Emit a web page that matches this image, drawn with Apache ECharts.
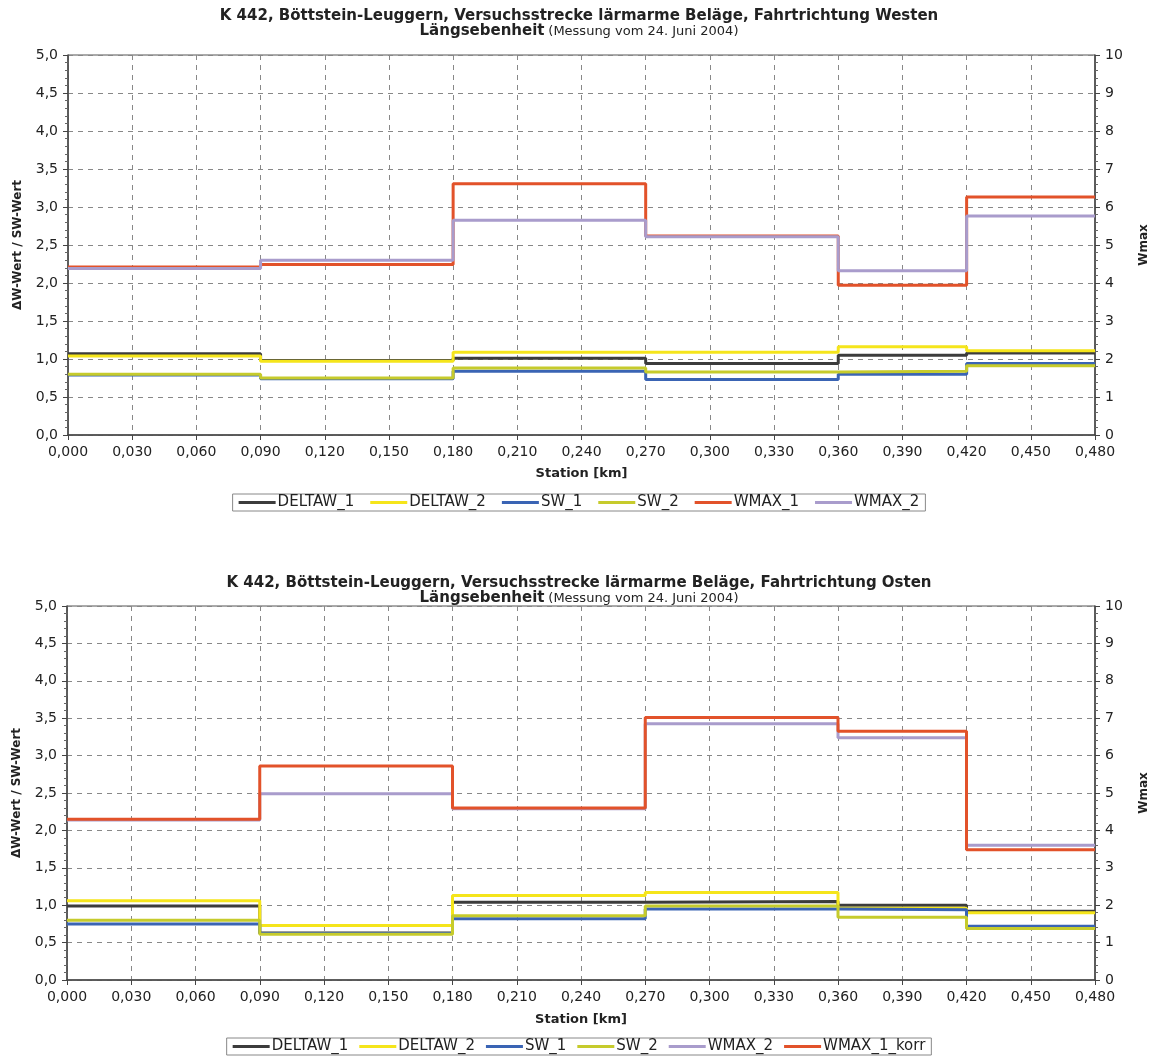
<!DOCTYPE html>
<html><head><meta charset="utf-8">
<script src="https://cdn.jsdelivr.net/npm/echarts@6/dist/echarts.min.js"></script>
<style>html,body{margin:0;padding:0;background:#fff}#c1{width:1158px;height:545px}#c2{width:1158px;height:512px}</style>
</head><body><div id="c1"></div><div id="c2"></div>
<script>
const stations = [0, 0.09, 0.18, 0.27, 0.36, 0.42, 0.48];

// Chart 1: Fahrtrichtung Westen
const w_DELTAW_1 = [1.07, 0.98, 1.01, 0.94, 1.05, 1.08];
const w_DELTAW_2 = [1.04, 0.97, 1.09, 1.09, 1.16, 1.11];
const w_SW_1     = [0.79, 0.74, 0.84, 0.73, 0.80, 0.94];
const w_SW_2     = [0.80, 0.75, 0.88, 0.83, 0.84, 0.91];
const w_WMAX_1   = [4.42, 4.49, 6.61, 5.24, 3.94, 6.26];
const w_WMAX_2   = [4.38, 4.60, 5.65, 5.22, 4.32, 5.76];

// Chart 2: Fahrtrichtung Osten
const o_DELTAW_1 = [0.99, 0.63, 1.04, 1.05, 1.00, 0.92];
const o_DELTAW_2 = [1.06, 0.73, 1.13, 1.17, 0.96, 0.90];
const o_SW_1     = [0.75, 0.62, 0.82, 0.95, 0.94, 0.72];
const o_SW_2     = [0.80, 0.61, 0.86, 0.99, 0.84, 0.69];
const o_WMAX_2   = [4.28, 4.98, 4.58, 6.85, 6.48, 3.60];
const o_WMAX_1_korr = [4.30, 5.72, 4.60, 7.02, 6.65, 3.48];

const COLORS = {
  DELTAW_1: '#3c3c3c', DELTAW_2: '#f5e51b', SW_1: '#3a64b4', SW_2: '#c6cb2c',
  WMAX_1: '#e2522a', WMAX_2: '#a99ccc', WMAX_1_korr: '#e2522a'
};
const FONT = '"DejaVu Sans", Verdana, sans-serif';

function stepData(vals){
  const d = vals.map((v,i)=>[stations[i], v]);
  d.push([stations[stations.length-1], vals[vals.length-1]]);
  return d;
}
function mkSeries(name, vals, yIdx){
  return {name, type:'line', step:'end', yAxisIndex:yIdx, data:stepData(vals), symbol:'none',
    lineStyle:{width:3, color:COLORS[name]}, itemStyle:{color:COLORS[name]}, animation:false};
}
function makeOption(dir, titleTop, gridTop, gridH, gridLeft, gridRight, legendTop, legendGap, nameGapX, seriesList){
  const names = seriesList.map(s=>s.name);
  return {
    animation:false,
    textStyle:{fontFamily:FONT},
    title:{
      left:'center', top:titleTop,
      text:'K 442, Böttstein-Leuggern, Versuchsstrecke lärmarme Beläge, Fahrtrichtung '+dir,
      textStyle:{fontFamily:FONT, fontSize:15, fontWeight:'bold', color:'#222'},
      subtext:'{b|Längsebenheit} {n|(Messung vom 24. Juni 2004)}',
      itemGap:0,
      subtextStyle:{rich:{b:{fontFamily:FONT, fontSize:15, fontWeight:'bold', color:'#222'},
                          n:{fontFamily:FONT, fontSize:13, color:'#222'}}}
    },
    grid:{left:gridLeft, right:gridRight, top:gridTop, height:gridH, show:true, borderColor:'#555', borderWidth:1},
    legend:{
      top:legendTop, left:'center', data:names, icon:'rect', itemWidth:37, itemHeight:3, itemGap:legendGap,
      borderColor:'#888', borderWidth:1, padding:[1,6], selectedMode:false,
      textStyle:{fontFamily:FONT, fontSize:15, color:'#222', padding:[0,0,0,-3]}
    },
    xAxis:{
      type:'value', min:0, max:0.48, interval:0.03,
      name:'Station [km]', nameLocation:'middle', nameGap:nameGapX,
      nameTextStyle:{fontFamily:FONT, fontSize:13, fontWeight:'bold', color:'#222'},
      axisLine:{onZero:false, lineStyle:{color:'#444', width:1.5}},
      axisTick:{show:true, length:5, lineStyle:{color:'#444'}},
      axisLabel:{fontFamily:FONT, fontSize:14, color:'#222', margin:10, formatter:v=>v.toFixed(3).replace('.',',')},
      splitLine:{show:true, lineStyle:{color:'#888', type:[5,5], width:1}}
    },
    yAxis:[{
      type:'value', min:0, max:5, interval:0.5, position:'left',
      name:'ΔW-Wert / SW-Wert', nameLocation:'middle', nameGap:44, nameRotate:90,
      nameTextStyle:{fontFamily:FONT, fontSize:12, fontWeight:'bold', color:'#222'},
      axisLine:{show:true, lineStyle:{color:'#444', width:1.5}},
      axisTick:{show:true, length:5, lineStyle:{color:'#444'}},
      minorTick:{show:true, splitNumber:5, length:3, lineStyle:{color:'#666'}},
      axisLabel:{fontFamily:FONT, fontSize:14, color:'#222', margin:10, formatter:v=>v.toFixed(1).replace('.',',')},
      splitLine:{show:true, lineStyle:{color:'#888', type:[5,5], width:1}}
    },{
      type:'value', min:0, max:10, interval:1, position:'right',
      name:'Wmax', nameLocation:'middle', nameGap:43, nameRotate:90,
      nameTextStyle:{fontFamily:FONT, fontSize:12, fontWeight:'bold', color:'#222'},
      axisLine:{show:true, lineStyle:{color:'#444', width:1.5}},
      axisTick:{show:true, length:5, lineStyle:{color:'#444'}},
      minorTick:{show:true, splitNumber:5, length:3, lineStyle:{color:'#666'}},
      axisLabel:{fontFamily:FONT, fontSize:14, color:'#222', margin:10},
      splitLine:{show:false}
    }],
    series:seriesList
  };
}

const c1 = echarts.init(document.getElementById('c1'), null, {renderer:'canvas'});
c1.setOption(makeOption('Westen', 4, 55, 380, 68, 59, 494, 16, 32, [
  mkSeries('DELTAW_1', w_DELTAW_1, 0),
  mkSeries('DELTAW_2', w_DELTAW_2, 0),
  mkSeries('SW_1', w_SW_1, 0),
  mkSeries('SW_2', w_SW_2, 0),
  mkSeries('WMAX_1', w_WMAX_1, 1),
  mkSeries('WMAX_2', w_WMAX_2, 1)
]));

const c2 = echarts.init(document.getElementById('c2'), null, {renderer:'canvas'});
c2.setOption(makeOption('Osten', 26, 61, 374, 67, 61, 493, 11, 33, [
  mkSeries('DELTAW_1', o_DELTAW_1, 0),
  mkSeries('DELTAW_2', o_DELTAW_2, 0),
  mkSeries('SW_1', o_SW_1, 0),
  mkSeries('SW_2', o_SW_2, 0),
  mkSeries('WMAX_2', o_WMAX_2, 1),
  mkSeries('WMAX_1_korr', o_WMAX_1_korr, 1)
]));
</script></body></html>
